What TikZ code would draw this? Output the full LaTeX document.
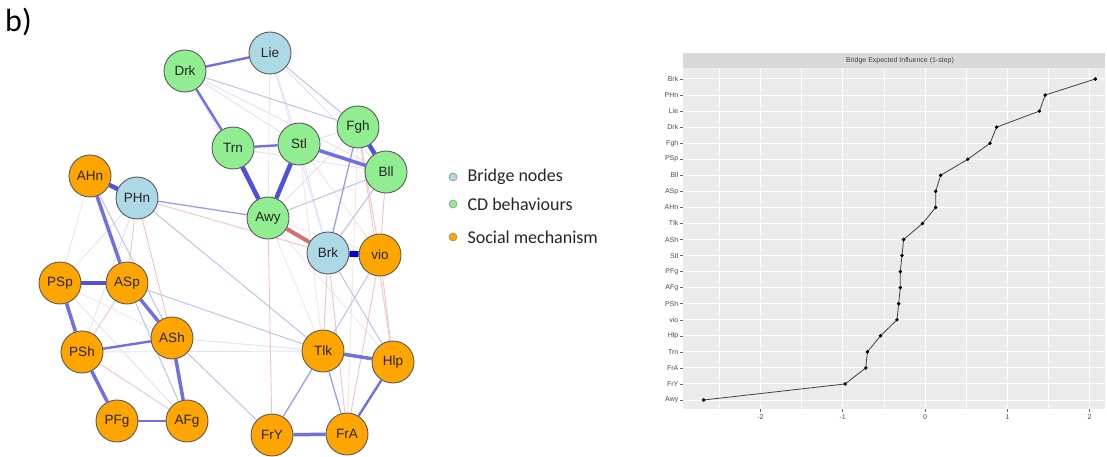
\documentclass[tikz,border=0pt]{standalone}
\usepackage{fontspec}
\setmainfont{Carlito}
\newfontfamily\arialf{Liberation Sans}
\usetikzlibrary{backgrounds}

\definecolor{bridgeC}{HTML}{ADD8E6}
\definecolor{cdC}{HTML}{90EE90}
\definecolor{socC}{HTML}{FFA500}
\definecolor{nodeEdge}{HTML}{5A5A5A}
\definecolor{pb5}{RGB}{0,0,215}
\definecolor{pb4}{RGB}{80,80,222}
\definecolor{pb3}{RGB}{112,112,228}
\definecolor{pb2}{RGB}{155,155,236}
\definecolor{pb1}{RGB}{192,192,243}
\definecolor{pb0}{RGB}{224,224,248}
\definecolor{nr3}{RGB}{212,112,112}
\definecolor{nr1}{RGB}{240,196,196}
\definecolor{nr0}{RGB}{248,226,226}
\definecolor{panelC}{HTML}{EBEBEB}
\definecolor{stripC}{HTML}{D9D9D9}

\tikzset{
  net/.style={circle, draw=nodeEdge, line width=0.9pt, minimum size=42pt,
    inner sep=0pt, font=\arialf\fontsize{13.5}{13.5}\selectfont, text=black!85},
  bridge/.style={net, fill=bridgeC},
  cdb/.style={net, fill=cdC},
  soc/.style={net, fill=socC},
  eb5/.style={draw=pb5, line width=6pt},
  eb4/.style={draw=pb4, line width=4.5pt},
  eb3/.style={draw=pb3, line width=3.5pt},
  eb2/.style={draw=pb3, line width=2.4pt},
  eb1/.style={draw=pb2, line width=1.3pt},
  ebl/.style={draw=pb1, line width=1pt},
  eb0/.style={draw=pb0, line width=0.9pt},
  er3/.style={draw=nr3, line width=4pt},
  er1/.style={draw=nr1, line width=0.9pt},
  er0/.style={draw=nr0, line width=0.9pt},
  legdot/.style={circle, draw=black!45, line width=0.6pt, minimum size=8pt, inner sep=0pt},
  legtxt/.style={anchor=west, font=\fontsize{18}{18}\selectfont, text=black!85},
  ylab/.style={anchor=east, font=\arialf\fontsize{7}{7}\selectfont, text=black!70, inner sep=0pt},
  xlab/.style={anchor=north, font=\arialf\fontsize{7}{7}\selectfont, text=black!70, inner sep=0pt},
  plotline/.style={draw=black!75, line width=0.8pt},
}

\begin{document}
\begin{tikzpicture}[x=1pt,y=-1pt]
\useasboundingbox (0,0) rectangle (1107,457);

\node[anchor=north west, font=\fontsize{32}{32}\selectfont, inner sep=0pt] (title) at (5,8) {b)};

% ---------- network nodes ----------
\node[bridge] (lie) at (270,53) {Lie};
\node[cdb] (drk) at (185,71) {Drk};
\node[cdb] (fgh) at (358,127) {Fgh};
\node[cdb] (stl) at (299,144) {Stl};
\node[cdb] (trn) at (233,148) {Trn};
\node[cdb] (bll) at (386,172) {Bll};
\node[soc] (ahn) at (90,176) {AHn};
\node[bridge] (phn) at (137,198) {PHn};
\node[cdb] (awy) at (268,218) {Awy};
\node[bridge] (brk) at (328,253) {Brk};
\node[soc] (vio) at (380,255) {vio};
\node[soc] (psp) at (60,283) {PSp};
\node[soc] (asp) at (127,283) {ASp};
\node[soc] (ash) at (172,338) {ASh};
\node[soc] (psh) at (82,352) {PSh};
\node[soc] (tlk) at (323,351) {Tlk};
\node[soc] (hlp) at (393,362) {Hlp};
\node[soc] (pfg) at (117,421) {PFg};
\node[soc] (afg) at (187,421) {AFg};
\node[soc] (fry) at (272,435) {FrY};
\node[soc] (fra) at (347,434) {FrA};

% ---------- network edges ----------
\begin{scope}[on background layer]
  % faint edges
  \foreach \a/\b in {drk/stl, drk/awy, lie/stl, lie/bll, psp/phn, psh/phn,
                     psp/afg, stl/brk, trn/bll, fgh/awy, lie/brk, ash/tlk,
                     stl/fgh, psh/tlk, drk/bll}
    \draw[eb0] (\a) -- (\b);
  \foreach \a/\b in {lie/awy, stl/tlk, ahn/psp, psp/ash, awy/tlk, awy/hlp,
                     awy/vio, fgh/fra, stl/vio, bll/brk}
    \draw[er0] (\a) -- (\b);
  \foreach \a/\b in {awy/fry, vio/hlp, brk/tlk, brk/fra, vio/fra, fgh/vio,
                     bll/vio, phn/asp, phn/ash, asp/psh, psh/afg, phn/brk,
                     fgh/hlp}
    \draw[er1] (\a) -- (\b);
  \foreach \a/\b in {lie/fgh, drk/fgh, phn/tlk, asp/tlk, ash/fry, vio/tlk,
                     brk/hlp, ahn/ash, awy/bll, brk/bll, asp/afg}
    \draw[ebl] (\a) -- (\b);
  % medium edges
  \foreach \a/\b in {awy/phn, tlk/fry, tlk/fra, fgh/brk}
    \draw[eb1] (\a) -- (\b);
  \foreach \a/\b in {hlp/fra, pfg/afg, trn/stl, drk/lie, drk/trn, psh/ash}
    \draw[eb2] (\a) -- (\b);
  % strong edges
  \foreach \a/\b in {psp/psh, psh/pfg, asp/ash, ash/afg, ahn/asp, stl/bll,
                     tlk/hlp, fry/fra}
    \draw[eb3] (\a) -- (\b);
  \foreach \a/\b in {ahn/phn, fgh/bll, psp/asp, trn/awy, stl/awy}
    \draw[eb4] (\a) -- (\b);
  \draw[er3] (awy) -- (brk);
  \draw[eb5] (brk) -- (vio);
\end{scope}

% ---------- legend ----------
\node[legdot, fill=bridgeC] (lg1) at (453,177) {};
\node[legdot, fill=cdC] (lg2) at (453,204) {};
\node[legdot, fill=socC] (lg3) at (453,237) {};
\node[legtxt] (lt1) at (464,177) {Bridge nodes};
\node[legtxt] (lt2) at (464,204) {CD behaviours};
\node[legtxt] (lt3) at (464,237) {Social mechanism};

% ---------- bridge expected influence plot ----------
\fill[stripC] (683,53) rectangle (1105,68);
\node[font=\arialf\fontsize{7}{7}\selectfont, text=black!75] (strip) at (900,61) {Bridge Expected Influence (1-step)};
\fill[panelC] (683,68) rectangle (1105,409);
% minor grid
\foreach \v in {-2.5,-1.5,-0.5,0.5,1.5}
  \draw[white, line width=0.5pt] ({925+82.3*\v},68) -- ({925+82.3*\v},409);
% major grid
\foreach \v in {-2,-1,0,1,2}
  \draw[white, line width=1pt] ({925+82.3*\v},68) -- ({925+82.3*\v},409);
\foreach \i in {0,...,20}
  \draw[white, line width=1pt] (683,{79+16.05*\i}) -- (1105,{79+16.05*\i});
% x axis ticks and labels
\foreach \v/\t in {-2/-2,-1/-1,0/0,1/1,2/2} {
  \draw[black!60, line width=0.5pt] ({925+82.3*\v},409) -- ({925+82.3*\v},412);
  \node[xlab] at ({925+82.3*\v},414) {\t};
}
% data
\foreach \n/\v [count=\i from 0] in {Brk/2.07, PHn/1.46, Lie/1.39, Drk/0.87,
    Fgh/0.79, PSp/0.52, Bll/0.19, ASp/0.13, AHn/0.13, Tlk/-0.03, ASh/-0.26,
    Stl/-0.28, PFg/-0.30, AFg/-0.30, PSh/-0.32, vio/-0.34, Hlp/-0.54,
    Trn/-0.70, FrA/-0.72, FrY/-0.97, Awy/-2.69} {
  \coordinate (p\i) at ({925+82.3*\v},{79+16.05*\i});
  \draw[black!60, line width=0.5pt] (680,{79+16.05*\i}) -- (683,{79+16.05*\i});
  \node[ylab] (yl\i) at (678.5,{79+16.05*\i}) {\n};
}
\draw[plotline] (p0) \foreach \i in {1,...,20} { -- (p\i) };
\foreach \i in {0,...,20}
  \fill[black] (p\i) circle (1.9);
\end{tikzpicture}
\end{document}
